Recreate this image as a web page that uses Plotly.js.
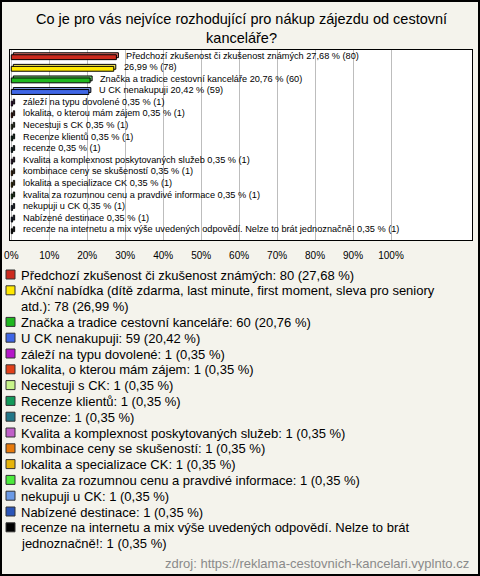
<!DOCTYPE html>
<html><head><meta charset="utf-8">
<script src="https://cdn.plot.ly/plotly-3.0.1.min.js"></script>
<style>
html,body{margin:0;padding:0;background:#f4f3ec;}
#wrap{position:relative;width:480px;height:576px;}
#chart{width:480px;height:576px;}
#frame{position:absolute;left:0;top:0;width:480px;height:576px;box-sizing:border-box;border:2px solid #000;pointer-events:none;}
</style></head><body>
<div id="wrap"><div id="chart"></div><div id="frame"></div></div>
<script>
const titleLines = ['Co je pro vás nejvíce rozhodující pro nákup zájezdu od cestovní', 'kanceláře?'];
const categories = [
  'Předchozí zkušenost či zkušenost známých',
  'Akční nabídka (dítě zdarma, last minute, first moment, sleva pro seniory atd.)',
  'Značka a tradice cestovní kanceláře',
  'U CK nenakupuji',
  'záleží na typu dovolené',
  'lokalita, o kterou mám zájem',
  'Necestuji s CK',
  'Recenze klientů',
  'recenze',
  'Kvalita a komplexnost poskytovaných služeb',
  'kombinace ceny se skušeností',
  'lokalita a specializace CK',
  'kvalita za rozumnou cenu a pravdivé informace',
  'nekupuji u CK',
  'Nabízené destinace',
  'recenze na internetu a mix výše uvedených odpovědí. Nelze to brát jednoznačně!'
];
const counts   = [80, 78, 60, 59, 1, 1, 1, 1, 1, 1, 1, 1, 1, 1, 1, 1];
const percents = [27.68, 26.99, 20.76, 20.42, 0.35, 0.35, 0.35, 0.35, 0.35, 0.35, 0.35, 0.35, 0.35, 0.35, 0.35, 0.35];
const colors = ['#cc2a1e', '#ffe800', '#1fb81f', '#3f66e6', '#b517c9', '#e2401a', '#c8f58a', '#129a5a',
                '#227788', '#c060c8', '#e87a0a', '#e6b40a', '#4ceb3c', '#6b9ae6', '#2a55b8', '#000000'];
const nameOnBar = [1, 0, 1, 1, 1, 1, 1, 1, 1, 1, 1, 1, 1, 1, 1, 1];
const tickValues = [0, 10, 20, 30, 40, 50, 60, 70, 80, 90, 100];
const tickLabels = tickValues.map(v => v + '%');
const sourceText = 'zdroj: https://reklama-cestovnich-kancelari.vyplnto.cz';

const FONT = 'Arial, "Liberation Sans", sans-serif';
const fmt = v => v.toFixed(2).replace('.', ',');
function lighten(hex, k) {
  const n = parseInt(hex.slice(1), 16);
  const r = (n >> 16) & 255, g = (n >> 8) & 255, b = n & 255;
  const f = c => Math.round(c + (255 - c) * k);
  return 'rgb(' + f(r) + ',' + f(g) + ',' + f(b) + ')';
}
const ctx = document.createElement('canvas').getContext('2d');
ctx.font = '13px "Liberation Sans", Arial, sans-serif';
function wrap(text, maxW) {
  const words = text.split(' '); const lines = []; let cur = '';
  for (const w of words) {
    const t = cur ? cur + ' ' + w : w;
    if (ctx.measureText(t).width > maxW && cur) { lines.push(cur); cur = w; } else cur = t;
  }
  if (cur) lines.push(cur);
  return lines;
}

const ML = 10, MR = 8, MT = 50, MB = 336;
const plotBottomPx = 576 - MB;
const DEPTH = 0.53; // ~2px 3D depth on value axis

const back = {
  type: 'bar', orientation: 'h', y: categories, x: percents, base: DEPTH,
  width: 0.42, offset: -0.32,
  marker: {color: colors.map(c => lighten(c, 0.35)), line: {color: '#000', width: 1}},
  hoverinfo: 'skip', showlegend: false
};
const front = {
  type: 'bar', orientation: 'h', y: categories, x: percents,
  width: 0.42, offset: -0.15,
  marker: {color: colors, line: {color: '#000', width: 1}},
  hoverinfo: 'skip', showlegend: false
};

const annotations = [];
const shapes = [];
// title (one two-line text block)
annotations.push({
  text: titleLines.join('<br>'), xref: 'paper', yref: 'paper', x: 0.5, y: 1,
  xanchor: 'center', yanchor: 'middle', align: 'center',
  yshift: MT - 28, showarrow: false, font: {family: FONT, size: 14.5, color: '#000'}
});
// bar labels
categories.forEach((c, i) => annotations.push({
  text: (nameOnBar[i] ? c + ' ' : '') + fmt(percents[i]) + ' % (' + counts[i] + ')',
  xref: 'x', yref: 'y', x: percents[i], y: c, xanchor: 'left', yanchor: 'middle',
  xshift: 8, yshift: 1, showarrow: false, font: {family: FONT, size: 9.2, color: '#000'}
}));
// custom legend
let line = 0;
const LEG_Y0 = 275, LEG_STEP = 15.8;
categories.forEach((c, i) => {
  const lines = wrap(c + ': ' + counts[i] + ' (' + fmt(percents[i]) + ' %)', 440);
  const cy = LEG_Y0 + line * LEG_STEP;
  shapes.push({
    type: 'rect', xref: 'paper', yref: 'paper', xsizemode: 'pixel', ysizemode: 'pixel',
    xanchor: 0, yanchor: 0, x0: -4, x1: 5, y0: -(cy - plotBottomPx) - 4, y1: -(cy - plotBottomPx) + 5,
    fillcolor: colors[i], line: {color: '#333', width: 1}
  });
  lines.forEach(t => {
    annotations.push({
      text: t, xref: 'paper', yref: 'paper', x: 0, y: 0, xanchor: 'left', yanchor: 'middle',
      xshift: 9, yshift: -(LEG_Y0 + line * LEG_STEP - plotBottomPx), showarrow: false,
      font: {family: FONT, size: 13, color: '#000'}
    });
    line++;
  });
});
annotations.push({
  text: sourceText, xref: 'paper', yref: 'paper', x: 1, y: 0, xanchor: 'right', yanchor: 'middle',
  xshift: -1, yshift: -(563 - plotBottomPx), showarrow: false, font: {family: FONT, size: 13, color: '#8a8a8a'}
});

const layout = {
  width: 480, height: 576,
  margin: {l: ML, r: MR, t: MT, b: MB, pad: 0},
  paper_bgcolor: '#f4f3ec', plot_bgcolor: '#ffffff',
  barmode: 'overlay', hovermode: false, showlegend: false,
  xaxis: {
    range: [-0.34, 121.33], tickvals: tickValues, ticktext: tickLabels,
    showgrid: true, gridcolor: '#bdbdbd', gridwidth: 1, zeroline: false,
    ticks: '', ticklabelstandoff: 6, tickfont: {family: FONT, size: 10, color: '#000'},
    showline: true, mirror: true, linecolor: '#000', linewidth: 1, fixedrange: true
  },
  yaxis: {
    type: 'category', categoryorder: 'array', categoryarray: categories,
    range: [15.82, -0.56], showticklabels: false, ticks: '', showgrid: false, zeroline: false,
    showline: true, mirror: true, linecolor: '#000', linewidth: 1, fixedrange: true
  },
  annotations: annotations, shapes: shapes
};
Plotly.newPlot('chart', [back, front], layout, {displayModeBar: false, staticPlot: true});
</script>
</body></html>
